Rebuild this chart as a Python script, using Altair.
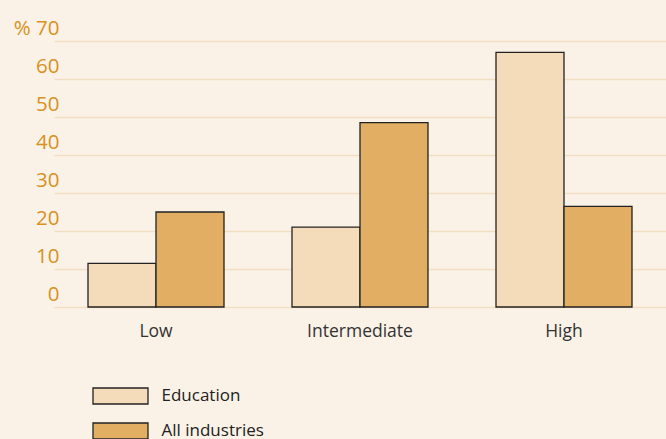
import altair as alt
import pandas as pd

# Share of employees by level of education attainment (%)
levels = ["Low", "Intermediate", "High"]
series = ["Education", "All industries"]
education = [11.5, 21, 67]
all_industries = [25, 48.5, 26.5]
y_ticks = [0, 10, 20, 30, 40, 50, 60, 70]

rows = []
for i, lvl in enumerate(levels):
    rows.append({"level": lvl, "series": series[0], "value": education[i]})
    rows.append({"level": lvl, "series": series[1], "value": all_industries[i]})
df = pd.DataFrame(rows)

FONT = "Open Sans"
BG = "#FBF2E7"
LABEL_ORANGE = "#D8911F"

bars = alt.Chart(df).mark_bar(stroke="#222222", strokeWidth=1.3).encode(
    x=alt.X(
        "level:N",
        sort=levels,
        scale=alt.Scale(range=[45, 657], paddingInner=1 / 3, paddingOuter=1 / 6),
        axis=alt.Axis(
            title=None,
            labelAngle=0,
            labelFont=FONT,
            labelFontSize=17.5,
            labelColor="#333333",
            labelPadding=15,
            ticks=False,
            domain=False,
            grid=False,
        ),
    ),
    xOffset=alt.XOffset("series:N", sort=series),
    y=alt.Y(
        "value:Q",
        scale=alt.Scale(domain=[0, 70], nice=False),
        axis=alt.Axis(
            title=None,
            values=y_ticks,
            labelExpr="datum.value == 70 ? '% 70' : datum.label",
            labelFont=FONT,
            labelFontSize=20.5,
            labelColor=LABEL_ORANGE,
            labelAlign="right",
            labelBaseline="alphabetic",
            labelPadding=-50,
            labelOffset=-7,
            ticks=False,
            domain=False,
            grid=True,
            gridColor="#F2DEC3",
            gridWidth=1.6,
        ),
    ),
    color=alt.Color(
        "series:N",
        sort=series,
        scale=alt.Scale(domain=series, range=["#F4DCBA", "#E2AE64"]),
        legend=alt.Legend(
            title=None,
            orient="none",
            legendX=95.5,
            legendY=339,
            direction="vertical",
            # wide flat swatch drawn from a small nominal symbol size
            symbolType="M-1.833,-0.533L1.833,-0.533L1.833,0.533L-1.833,0.533Z",
            symbolSize=900,
            symbolStrokeColor="#222222",
            symbolStrokeWidth=1.3,
            symbolOpacity=1,
            labelFont=FONT,
            labelFontSize=17,
            labelColor="#222222",
            labelOffset=25,
            rowPadding=8,
            padding=0,
        ),
    ),
)

chart = bars.properties(
    width=657,
    height=266,
    background=BG,
    padding={"left": 9, "top": 41, "right": 0, "bottom": 132},
    autosize=alt.AutoSizeParams(type="none"),
).configure_view(stroke=None, fill=BG)

chart.save("out.html", embed_options={"renderer": "svg", "actions": False})
